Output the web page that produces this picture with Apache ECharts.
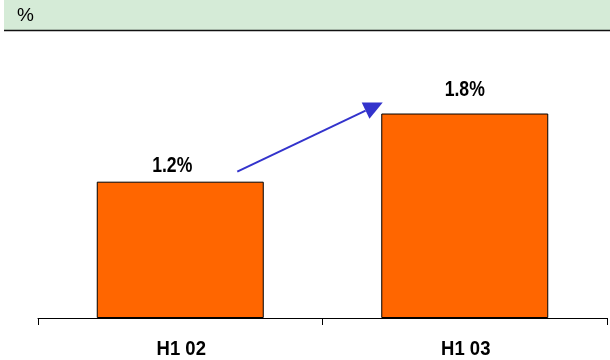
<!DOCTYPE html>
<html>
<head>
<meta charset="utf-8">
<script src="https://cdn.jsdelivr.net/npm/echarts@6/dist/echarts.min.js"></script>
<style>
html,body{margin:0;padding:0;background:#fff;}
#chart{width:610px;height:360px;}
</style>
</head>
<body>
<div id="chart"></div>
<script>
// Half-year comparison, values in percent
const categories = ['H1 02', 'H1 03'];
const values = [1.2, 1.8];
const unitLabel = '%';

// Condensed bold lettering is emulated with a horizontal squeeze
const FONT = '"Liberation Sans", Arial, sans-serif';
const valueLabelShift = [[-8, -5], [0, -13]];   // px offsets of value labels from bar tops

const chart = echarts.init(document.getElementById('chart'), null, {renderer: 'canvas'});

chart.setOption({
  animation: false,
  grid: {left: 38, right: 3, top: 34, bottom: 42, containLabel: false},
  xAxis: {
    type: 'category',
    data: categories,
    boundaryGap: true,
    axisLine: {lineStyle: {color: '#000', width: 1}},
    axisTick: {show: true, length: 7, lineStyle: {color: '#000'}},
    axisLabel: {show: false}
  },
  yAxis: {type: 'value', min: 0, max: 2.5, show: false, splitLine: {show: false}},
  series: [{
    type: 'bar',
    data: values,
    barWidth: 167,
    itemStyle: {color: '#ff6600', borderColor: '#000', borderWidth: 1}
  }]
});

function buildOverlay() {
  const items = [
    {type: 'rect', id: 'band', left: 4, top: 0, shape: {width: 606, height: 30}, style: {fill: '#d5ebd7'}, silent: true, z: 0},
    {type: 'line', id: 'bandRule', shape: {x1: 4, y1: 30.5, x2: 610, y2: 30.5}, style: {stroke: '#111', lineWidth: 1.5}, silent: true},
    {type: 'text', id: 'unit', x: 17, y: 16, style: {text: unitLabel, fill: '#000', font: '19px ' + FONT, align: 'left', verticalAlign: 'middle'}, silent: true}
  ];

  // category names under the axis
  categories.forEach((name, i) => {
    const p = chart.convertToPixel({gridIndex: 0}, [i, 0]);
    items.push({type: 'text', id: 'cat' + i, x: p[0] + 1, y: p[1] + 31, scaleX: 0.88,
      style: {text: name, fill: '#000', font: 'bold 21px ' + FONT, align: 'center', verticalAlign: 'middle'}, silent: true});
  });

  // value labels above each bar
  values.forEach((v, i) => {
    const p = chart.convertToPixel({gridIndex: 0}, [i, v]);
    items.push({type: 'text', id: 'val' + i, x: p[0] + valueLabelShift[i][0], y: p[1] + valueLabelShift[i][1], scaleX: 0.8,
      style: {text: v.toFixed(1) + '%', fill: '#000', font: 'bold 22px ' + FONT, align: 'center', verticalAlign: 'bottom'}, silent: true});
  });

  // trend arrow from the first bar toward the second
  const p0 = chart.convertToPixel({gridIndex: 0}, [0, values[0]]);
  const p1 = chart.convertToPixel({gridIndex: 0}, [1, values[1]]);
  const start = [p0[0] + 57, p0[1] - 10];
  const tip = [p1[0] - 82, p1[1] - 11];
  const dx = tip[0] - start[0], dy = tip[1] - start[1];
  const len = Math.sqrt(dx * dx + dy * dy);
  const ux = dx / len, uy = dy / len;
  const headLen = 19, headHalf = 9;
  const base = [tip[0] - ux * headLen, tip[1] - uy * headLen];
  const nx = -uy, ny = ux;
  items.push({type: 'line', id: 'arrowShaft', shape: {x1: start[0], y1: start[1], x2: base[0], y2: base[1]},
    style: {stroke: '#3333cc', lineWidth: 2}, silent: true});
  items.push({type: 'polygon', id: 'arrowHead', shape: {points: [
    tip,
    [base[0] + nx * headHalf, base[1] + ny * headHalf],
    [base[0] - nx * headHalf, base[1] - ny * headHalf]
  ]}, style: {fill: '#3333cc'}, silent: true});

  chart.setOption({graphic: items});
}
buildOverlay();
</script>
</body>
</html>
